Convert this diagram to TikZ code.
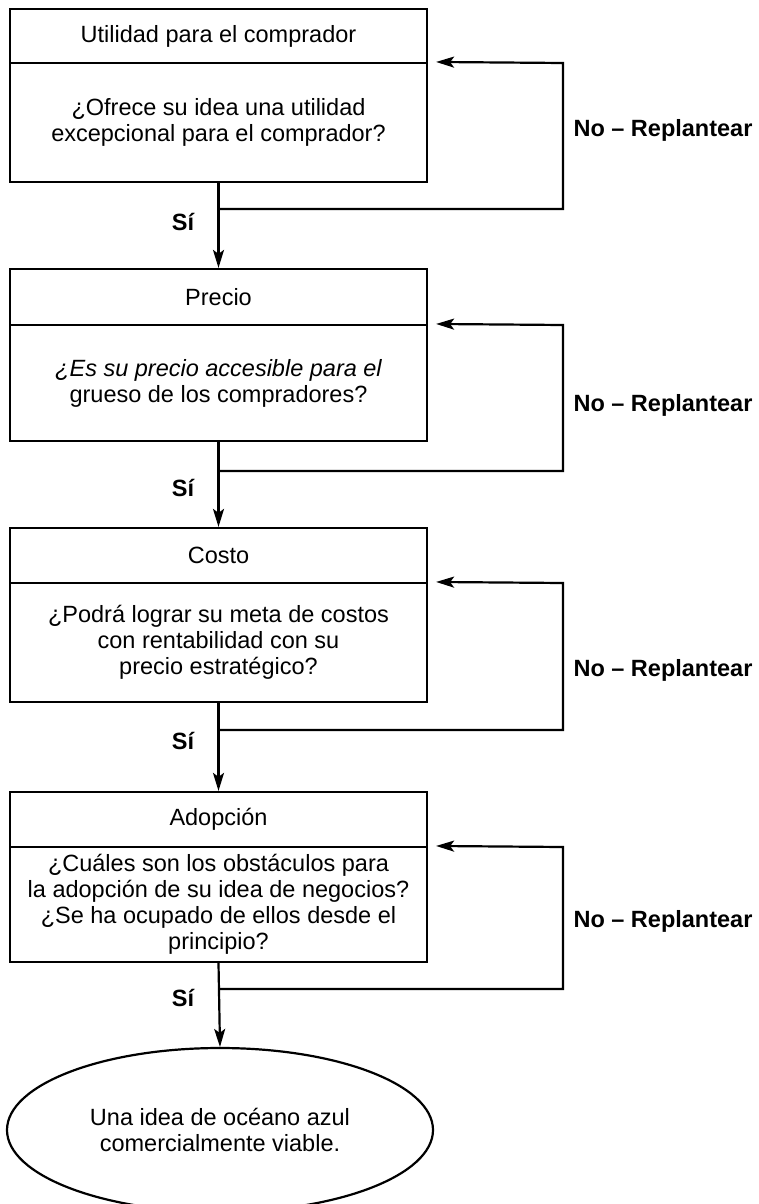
\documentclass[tikz,border=0pt]{standalone}
\usepackage{fontspec}
\setmainfont{Liberation Sans}
\usetikzlibrary{arrows.meta,shapes.geometric}
\pgfdeclarelayer{edgelayer}
\pgfdeclarelayer{nodelayer}
\pgfsetlayers{edgelayer,nodelayer,main}
\tikzstyle{heading}=[rectangle, draw=black, line width=2.2pt, minimum width=417pt, inner sep=0pt]
\tikzstyle{question}=[rectangle, draw=black, line width=2.2pt, minimum width=417pt, inner sep=0pt, align=center]
\tikzstyle{outcome}=[ellipse, draw=black, line width=2.2pt, minimum width=426pt, minimum height=164pt, inner sep=0pt, align=center]
\tikzstyle{arrow}=[-{Stealth[length=18pt, width=11pt, inset=4pt]}, draw=black, line width=2.2pt]
\tikzstyle{yes}=[font=\fontsize{23.5}{26}\selectfont\bfseries]
\tikzstyle{rethink}=[anchor=west, font=\fontsize{23.5}{26}\selectfont\bfseries]

\begin{document}
\begin{tikzpicture}[x=1pt, y=-1pt, font=\fontsize{23.5}{26}\selectfont]
            \useasboundingbox (0,0) rectangle (758,1204);
            \begin{pgfonlayer}{nodelayer}
                \node [style=heading, minimum height=54pt] (utilTitle) at (218.5, 36) {Utilidad para el comprador};
                \node [style=question, minimum height=119pt] (utilAsk) at (218.5, 122.5) {¿Ofrece su idea una utilidad\\excepcional para el comprador?};
                \node [style=heading, minimum height=56pt] (precioTitle) at (218.5, 297) {Precio};
                \node [style=question, minimum height=116pt] (precioAsk) at (218.5, 383) {{\itshape ¿Es su precio accesible para el}\\grueso de los compradores?};
                \node [style=heading, minimum height=55pt] (costoTitle) at (218.5, 555.5) {Costo};
                \node [style=question, minimum height=119pt] (costoAsk) at (218.5, 642.5) {¿Podrá lograr su meta de costos\\con rentabilidad con su\\precio estratégico?};
                \node [style=heading, minimum height=55pt] (adopTitle) at (218.5, 819.5) {Adopción};
                \node [style=question, minimum height=115pt] (adopAsk) at (218.5, 904.5) {¿Cuáles son los obstáculos para\\la adopción de su idea de negocios?\\¿Se ha ocupado de ellos desde el\\principio?};
                \node [style=outcome] (viable) at (220, 1130) {Una idea de océano azul\\comercialmente viable.};

                \node [style=yes] (utilYes) at (183, 222) {Sí};
                \node [style=yes] (precioYes) at (183, 488) {Sí};
                \node [style=yes] (costoYes) at (183, 741) {Sí};
                \node [style=yes] (adopYes) at (183, 998) {Sí};

                \node [style=rethink] (utilNo) at (570, 130) {No – Replantear};
                \node [style=rethink] (precioNo) at (570, 405) {No – Replantear};
                \node [style=rethink] (costoNo) at (570, 670) {No – Replantear};
                \node [style=rethink] (adopNo) at (570, 921) {No – Replantear};

                \coordinate (utilJoin) at (218.5, 209);
                \coordinate (precioJoin) at (218.5, 471);
                \coordinate (costoJoin) at (218.5, 730);
                \coordinate (adopJoin) at (218.5, 989);
                \coordinate (utilBack) at (563, 63);
                \coordinate (precioBack) at (563, 325);
                \coordinate (costoBack) at (563, 583);
                \coordinate (adopBack) at (563, 847);
            \end{pgfonlayer}
            \begin{pgfonlayer}{edgelayer}
                \draw [style=arrow] (utilAsk.south) to (precioTitle.north);
                \draw [style=arrow] (precioAsk.south) to (costoTitle.north);
                \draw [style=arrow] (costoAsk.south) to (adopTitle.north);
                \draw [style=arrow] (adopAsk.south) to (viable.north);

                \draw [style=arrow, shorten >=8pt] (utilJoin) -| (utilBack) -- (utilAsk.north east);
                \draw [style=arrow, shorten >=8pt] (precioJoin) -| (precioBack) -- (precioAsk.north east);
                \draw [style=arrow, shorten >=8pt] (costoJoin) -| (costoBack) -- (costoAsk.north east);
                \draw [style=arrow, shorten >=8pt] (adopJoin) -| (adopBack) -- (adopAsk.north east);
            \end{pgfonlayer}
        \end{tikzpicture}
\end{document}
